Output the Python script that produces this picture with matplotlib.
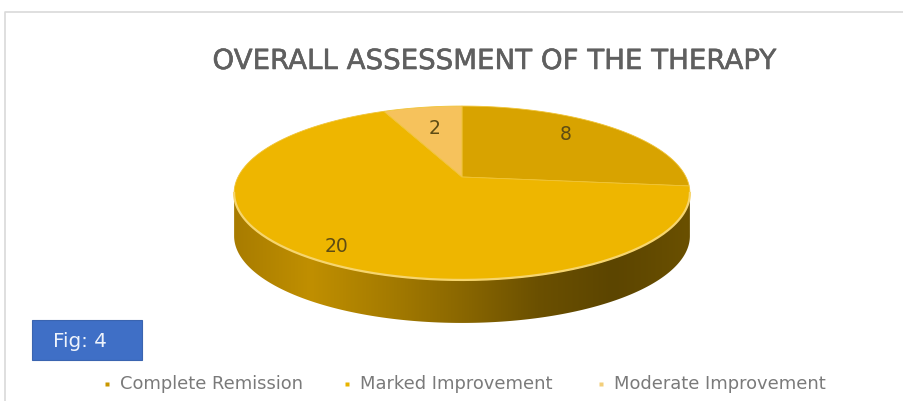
import numpy as np
import matplotlib.pyplot as plt
import matplotlib.patheffects as pe
from matplotlib.colors import LinearSegmentedColormap
from matplotlib.patches import Polygon, Rectangle

categories = ["Complete Remission", "Marked Improvement", "Moderate Improvement"]
patients = [8, 20, 2]
slice_colors = ["#d8a300", "#eeb600", "#f6c25c"]
marker_colors = ["#c99700", "#e8b400", "#f3cf7a"]

title = "OVERALL ASSESSMENT OF THE THERAPY"
fig_tag = "Fig: 4"

# pie geometry, in pixels
CX, CY = 462, 178
RX, RY = 224, 84
TILT = 0.184
DEPTH = 43


def project(theta, radius=1.0):
    # tilted disc with a little perspective, so the far half looks shorter
    x = radius * np.cos(theta)
    y = radius * np.sin(theta)
    d = 1 + TILT * y
    return CX + RX * x / d, CY - RY * y / d


fig = plt.figure(figsize=(9.04, 4.02), dpi=100)
ax = fig.add_axes([0, 0, 1, 1])
ax.set_xlim(0, 904)
ax.set_ylim(402, 0)
ax.axis("off")

# chart area border
ax.plot([5, 5, 904], [402, 13, 13], color="#d9d9d9", lw=1.2, zorder=1)

# front wall of the pie, shaded from left to right
front = np.linspace(-np.arcsin(TILT), -np.pi + np.arcsin(TILT), 200)
fx, fy = project(front)
wall_pts = np.r_[np.c_[fx, fy], np.c_[fx[::-1], fy[::-1] + DEPTH]]
wall = Polygon(wall_pts, closed=True, fc="none", ec="none", zorder=2)
ax.add_patch(wall)
shade = LinearSegmentedColormap.from_list(
    "wall", ["#a87c00", "#c08f00", "#a67c00", "#8a6700", "#6b5000", "#5c4500", "#6a5000"]
)
img = ax.imshow(
    np.linspace(0, 1, 256)[None, :],
    extent=[fx.min(), fx.max(), fy.max() + DEPTH, fy.min()],
    cmap=shade,
    aspect="auto",
    zorder=2,
)
img.set_clip_path(wall)
ax.set_xlim(0, 904)
ax.set_ylim(402, 0)

# top of the pie: clockwise from twelve o'clock
shares = np.array(patients) / sum(patients)
edges = np.pi / 2 - 2 * np.pi * np.r_[0, np.cumsum(shares)]
for start, stop, color in zip(edges[:-1], edges[1:], slice_colors):
    sx, sy = project(np.linspace(start, stop, 120))
    pts = np.r_[[[CX, CY]], np.c_[sx, sy]]
    ax.add_patch(Polygon(pts, closed=True, fc=color, ec="#f0c437", lw=0.6, zorder=3))

# light rim along the front edge
ax.plot(fx, fy, color="#f6d56e", lw=1.6, zorder=4)

# slice labels
label_xy = [(566, 135), (337, 247), (435, 128)]
for value, (lx, ly) in zip(patients, label_xy):
    ax.text(lx, ly, str(value), ha="center", va="center", fontsize=13.5,
            color="#5e4c14", zorder=5)

title_txt = ax.text(494.5, 62, title, ha="center", va="center", fontsize=19.9,
                    color="#5f5f5f")
title_txt.set_path_effects([pe.withStroke(linewidth=0.4, foreground="#5f5f5f")])

# figure tag
ax.add_patch(Rectangle((32, 321), 110, 40, fc="#3f6fc6", ec="#3a64b0", lw=0.8, zorder=3))
ax.text(53, 341.5, fig_tag, ha="left", va="center", fontsize=14.3,
        color="#eef3fb", zorder=4)

# legend
marker_x = [107, 347, 601]
for name, color, mx in zip(categories, marker_colors, marker_x):
    ax.plot(mx, 384.5, "s", ms=3.2, color=color, mec="none")
    ax.text(mx + 13, 384.5, name, ha="left", va="center", fontsize=12.9,
            color="#7a7a7a")

plt.savefig("out.png", dpi=100)
